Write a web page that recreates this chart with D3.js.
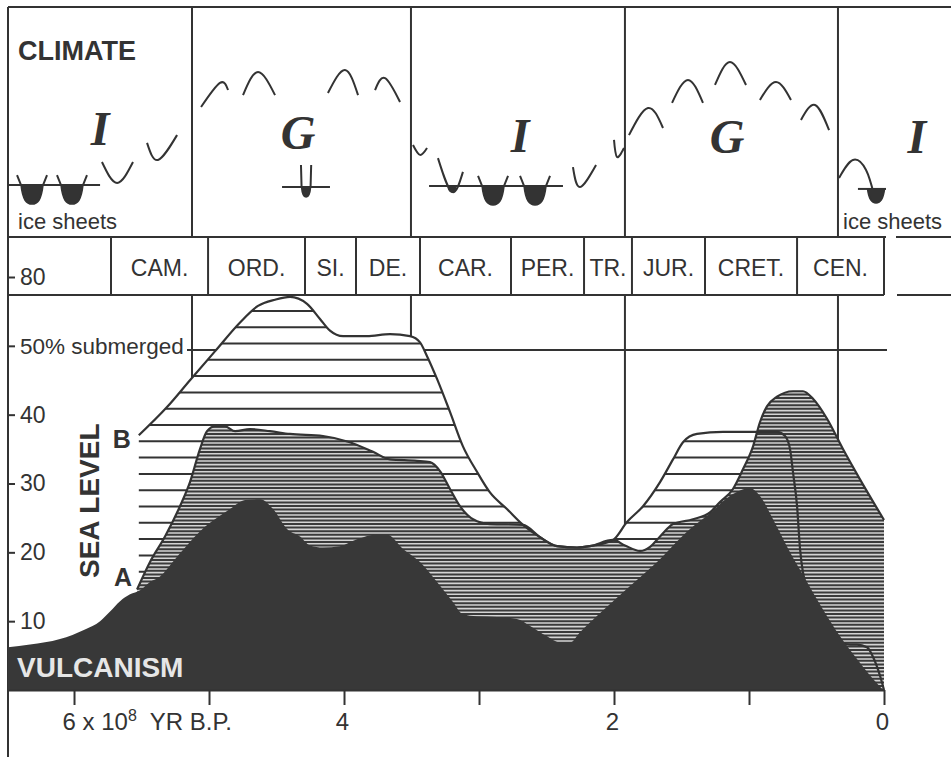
<!DOCTYPE html>
<html>
<head>
<meta charset="utf-8">
<script src="https://cdn.jsdelivr.net/npm/d3@7"></script>
<style>
  body { margin: 0; background: #fff; }
  text { fill: #333; font-family: "Liberation Sans", Arial, sans-serif; }
</style>
</head>
<body>
<div id="chart-container"></div>
<script>
// ages in units of 10^8 yr B.P., sea level on the chart's own scale
const vulcanism = [[6.489,6.2],[6.326,6.6],[6.104,7.4],[5.919,8.8],[5.807,10.0],[5.733,11.4],[5.659,12.9],
  [5.585,13.9],[5.511,14.5],[5.437,15.7],[5.363,16.5],[5.252,19.0],[5.141,21.5],[5.030,23.7],[4.956,24.8],
  [4.844,26.3],[4.733,27.6],[4.622,27.7],[4.526,26.3],[4.422,23.4],[4.326,22.3],[4.252,21.0],[4.156,20.7],
  [4.030,20.9],[3.904,21.9],[3.756,22.6],[3.681,22.6],[3.563,20.5],[3.437,18.6],[3.311,15.7],[3.193,12.8],
  [3.119,11.0],[3.015,10.7],[2.867,10.6],[2.719,10.3],[2.622,9.3],[2.496,7.8],[2.400,6.9],[2.326,6.9],
  [2.252,8.4],[2.178,9.8],[1.933,14.2],[1.681,18.6],[1.437,23.4],[1.311,25.3],[1.141,28.2],[0.993,29.3],
  [0.919,28.2],[0.822,24.8],[0.696,20.0],[0.570,15.7],[0.452,11.7],[0.326,7.8],[0.200,4.5],[0.081,1.6],[0.007,0]];

const curveA = [[5.533,14.6],[5.437,18.6],[5.326,22.3],[5.215,26.7],[5.141,30.2],[5.067,35.0],[5.015,37.6],
  [4.956,38.3],[4.881,38.3],[4.807,37.6],[4.696,37.9],[4.548,37.6],[4.400,37.2],[4.156,36.9],[3.956,36.0],
  [3.785,34.6],[3.659,33.5],[3.459,33.3],[3.363,33.1],[3.289,31.8],[3.215,29.2],[3.141,26.7],[3.044,24.8],
  [2.919,24.1],[2.674,24.0],[2.548,22.2],[2.422,20.9],[2.274,20.7],[2.178,20.9],[2.007,21.8],[1.919,21.0],
  [1.807,20.2],[1.733,20.8],[1.659,22.3],[1.563,24.1],[1.415,24.8],[1.289,25.8],[1.215,27.3],[1.119,29.2],
  [1.044,32.1],[0.970,35.4],[0.919,38.9],[0.867,41.2],[0.793,42.6],[0.674,43.4],[0.600,43.4],[0.526,42.3],
  [0.422,39.4],[0.304,35.0],[0.178,30.6],[0,24.7]];

const curveB = [[5.52,37.0],[5.311,41.1],[5.141,45.0],[4.956,49.2],[4.770,53.4],[4.637,55.8],[4.511,56.7],
  [4.400,57.1],[4.274,56.1],[4.178,53.9],[4.104,52.2],[4.007,51.4],[3.830,51.4],[3.659,51.7],[3.511,51.4],
  [3.437,50.5],[3.385,48.5],[3.311,45.2],[3.215,40.4],[3.119,35.4],[3.015,31.7],[2.919,28.7],[2.793,26.3],
  [2.674,24.0],[2.548,22.2],[2.422,20.9],[2.274,20.7],[2.178,20.9],[2.007,21.8],[1.904,24.4],[1.785,26.7],
  [1.659,30.2],[1.563,33.5],[1.489,36.0],[1.385,37.2],[1.193,37.5],[0.793,37.5],[0.733,36.9],[0.696,35.0],
  [0.674,31.6],[0.644,26.7],[0.622,20.5],[0.563,14.0],[0.400,8.0],[0.252,6.6],[0.200,6.6],[0.126,6.2],
  [0.081,4.8],[0.030,2.1],[0,0]];

const periodNames = ["CAM.", "ORD.", "SI.", "DE.", "CAR.", "PER.", "TR.", "JUR.", "CRET.", "CEN."];
const periodBounds = [5.726, 5.007, 4.289, 3.911, 3.437, 2.763, 2.222, 1.867, 1.326, 0.644, 0];
const climateBounds = [5.126, 3.504, 1.919, 0.341];
const climateLetters = [[5.807,47.4,"I"],[4.341,45.7,"G"],[2.696,44.3,"I"],[1.163,43.9,"G"],[-0.244,43.9,"I"]];

// climate glyphs: [age, level] on a 0-100 panel scale
const climateArcs = [
  [[5.793,32.6],[5.681,23.5],[5.563,32.6]],
  [[5.459,40.9],[5.378,33.5],[5.237,44.3]],
  [[5.059,56.5],[4.919,67.0],[4.859,63.9]],
  [[4.748,61.7],[4.637,71.7],[4.511,61.7]],
  [[4.119,62.6],[3.993,72.6],[3.896,61.7]],
  [[3.770,63.9],[3.696,69.1],[3.585,58.7]],
  [[3.489,40.0],[3.437,35.7],[3.385,38.7]],
  [[3.304,34.3],[3.200,19.6],[3.119,28.3]],
  [[2.304,30.4],[2.252,21.7],[2.133,31.3]],
  [[2.000,42.2],[1.978,34.8],[1.926,38.7]],
  [[1.889,44.3],[1.748,56.1],[1.637,47.4]],
  [[1.570,58.3],[1.452,68.3],[1.341,58.3]],
  [[1.252,66.1],[1.141,76.1],[1.022,66.1]],
  [[0.919,59.6],[0.800,67.4],[0.689,59.6]],
  [[0.615,50.9],[0.511,57.4],[0.407,46.5]],
  [[0.333,25.7],[0.230,33.5],[0.133,29.1],[0.074,18.3]]
];
const iceLines = [[6.489,5.807,22.6],[4.459,4.104,21.7],[3.370,2.378,22.2],[0.193,-0.015,20.9]];
const iceBowls = [[6.311,22.6,"wide"],[6.015,22.6,"wide"],[4.281,21.7,"narrow"],[3.200,22.2,"tiny"],
  [2.896,22.2,"wide"],[2.585,22.2,"wide"],[0.059,20.9,"small"]];

const xTicks = [0, 1, 2, 3, 4, 5, 6];
const xTickLabels = { 0: "0", 2: "2", 4: "4", 6: "6 x 10" };
const yTicks = [10, 20, 30, 40, 50, 60];
const yTickLabels = ["10", "20", "30", "40", "50% submerged", "80"];
const submergedLevel = 49.4;

const W = 951, H = 757;
const ink = "#333";
const climTop = 7, climBottom = 237, barBottom = 295;

const svg = d3.select("#chart-container").append("svg")
  .attr("width", W).attr("height", H);

const x = d3.scaleLinear().domain([6.489, 0]).range([8, 884]);
const y = d3.scaleLinear().domain([0, 60]).range([690, 277]);
const yc = d3.scaleLinear().domain([0, 100]).range([climBottom, climTop]);

function hline(g, x1, x2, yy) {
  g.append("line").attr("x1", x1).attr("x2", x2).attr("y1", yy).attr("y2", yy)
    .attr("stroke", ink).attr("stroke-width", 2);
}
function vline(g, xx, y1, y2) {
  g.append("line").attr("x1", xx).attr("x2", xx).attr("y1", y1).attr("y2", y2)
    .attr("stroke", ink).attr("stroke-width", 2);
}

// frame: climate box + period bar
const frame = svg.append("g");
vline(frame, 8, climTop, H);
hline(frame, 8, W, climTop);
hline(frame, 8, 886, climBottom);
hline(frame, 896, W, climBottom);
hline(frame, 8, x(0), barBottom);
hline(frame, 897, W, barBottom);
climateBounds.forEach(t => vline(frame, x(t), climTop, climBottom));
periodBounds.forEach(t => vline(frame, x(t), climBottom, barBottom));

// plot-area guide lines (covered by the fills)
climateBounds.forEach(t => vline(frame, x(t), barBottom, y(0)));
hline(frame, 187, 887, y(submergedLevel));

const area = d3.area().x(d => x(d[0])).y0(y(0)).y1(d => y(d[1])).curve(d3.curveMonotoneX);
const line = d3.line().x(d => x(d[0])).y(d => y(d[1])).curve(d3.curveMonotoneX);

const defs = svg.append("defs");
defs.append("clipPath").attr("id", "clipB").append("path").attr("d", area(curveB));
defs.append("clipPath").attr("id", "clipA").append("path").attr("d", area(curveA));

// B: sparse hatching
svg.append("path").attr("d", area(curveB)).attr("fill", "#fff");
svg.append("g").attr("clip-path", "url(#clipB)")
  .selectAll("line").data(d3.range(310.9, 692, 16.3)).join("line")
  .attr("x1", 0).attr("x2", W).attr("y1", d => d).attr("y2", d => d)
  .attr("stroke", ink).attr("stroke-width", 2);

// A: dense hatching
svg.append("path").attr("d", area(curveA)).attr("fill", "#d4d4d4");
svg.append("g").attr("clip-path", "url(#clipA)")
  .selectAll("line").data(d3.range(380, 692, 3.6)).join("line")
  .attr("x1", 0).attr("x2", W).attr("y1", d => d).attr("y2", d => d)
  .attr("stroke", "#3a3a3a").attr("stroke-width", 2);

svg.append("path").attr("d", line(curveB)).attr("fill", "none").attr("stroke", ink).attr("stroke-width", 2.2);
svg.append("path").attr("d", line(curveA)).attr("fill", "none").attr("stroke", ink).attr("stroke-width", 2.2);

// vulcanism
svg.append("path").attr("d", area(vulcanism)).attr("fill", "#383838");

// axes
const gx = svg.append("g").attr("transform", `translate(0,${y(0)})`)
  .call(d3.axisBottom(x).tickValues(xTicks).tickSize(15).tickSizeOuter(0).tickPadding(8)
    .tickFormat(d => xTickLabels[d] || ""));
gx.select(".domain").attr("stroke", ink).attr("stroke-width", 2);
gx.selectAll(".tick line").attr("stroke", ink).attr("stroke-width", 2);
gx.selectAll(".tick text").attr("font-size", 24).attr("font-family", "Liberation Sans, Arial")
  .attr("fill", ink).attr("x", -2);
gx.selectAll(".tick").filter(d => d === 6).select("text")
  .attr("text-anchor", "start").attr("x", -12).style("white-space", "pre")
  .call(t => {
    t.append("tspan").attr("dy", -9).attr("font-size", 16).text("8");
    t.append("tspan").attr("dy", 9).text("  YR B.P.");
  });

const gy = svg.append("g").attr("transform", "translate(8,0)")
  .call(d3.axisRight(y).tickValues(yTicks).tickSize(7).tickPadding(5)
    .tickFormat((d, i) => yTickLabels[i]));
gy.select(".domain").remove();
gy.selectAll(".tick line").attr("stroke", ink).attr("stroke-width", 2);
gy.selectAll(".tick text").attr("font-size", 23).attr("font-family", "Liberation Sans, Arial").attr("fill", ink);
gy.selectAll(".tick text").filter((d) => d === 50).attr("font-size", 22.5);

// period labels
svg.append("g").selectAll("text").data(periodNames).join("text")
  .attr("x", (d, i) => (x(periodBounds[i]) + x(periodBounds[i + 1])) / 2)
  .attr("y", 268).attr("dy", "0.35em").attr("text-anchor", "middle")
  .attr("font-size", 23).text(d => d);

// climate panel
const clim = svg.append("g");
const arcLine = d3.line().x(d => x(d[0])).y(d => yc(d[1])).curve(d3.curveNatural);
clim.selectAll("path.arc").data(climateArcs).join("path").attr("class", "arc")
  .attr("d", arcLine).attr("fill", "none").attr("stroke", ink).attr("stroke-width", 2);
iceLines.forEach(d => hline(clim, x(d[0]), x(d[1]), yc(d[2])));

const bowlStyle = {
  wide: { w: 11, d: 19, ext: 10, dx: 4 },
  narrow: { w: 4.5, d: 10, ext: 22, dx: 0.6 },
  tiny: { w: 4, d: 6, ext: 0, dx: 0 },
  small: { w: 8.5, d: 14, ext: 0, dx: 0 }
};
iceBowls.forEach(b => {
  const s = bowlStyle[b[2]], cx = x(b[0]), ly = yc(b[1]);
  clim.append("path")
    .attr("d", `M${cx - s.w},${ly} C${cx - s.w * 0.85},${ly + s.d * 0.8} ${cx - s.w * 0.5},${ly + s.d} ${cx},${ly + s.d}` +
      ` C${cx + s.w * 0.5},${ly + s.d} ${cx + s.w * 0.85},${ly + s.d * 0.8} ${cx + s.w},${ly} Z`)
    .attr("fill", ink).attr("stroke", ink).attr("stroke-width", 1.5);
  if (s.ext > 0) {
    clim.append("path")
      .attr("d", `M${cx - s.w - s.dx},${ly - s.ext} L${cx - s.w},${ly} M${cx + s.w + s.dx},${ly - s.ext} L${cx + s.w},${ly}`)
      .attr("fill", "none").attr("stroke", ink).attr("stroke-width", 2);
  }
});

clim.selectAll("text.letter").data(climateLetters).join("text").attr("class", "letter")
  .attr("x", d => x(d[0])).attr("y", d => yc(d[1])).attr("dy", "0.35em")
  .attr("text-anchor", "middle")
  .attr("font-weight", "bold").attr("font-style", "italic").attr("font-size", 48)
  .style("font-family", "Liberation Serif, serif").text(d => d[2]);

clim.append("text").attr("x", 18).attr("y", 60).attr("font-size", 27).attr("font-weight", "bold").text("CLIMATE");
clim.append("text").attr("x", 18).attr("y", 229).attr("font-size", 22).text("ice sheets");
clim.append("text").attr("x", 843).attr("y", 229).attr("font-size", 22).text("ice sheets");

// curve labels
svg.append("text").attr("x", 89).attr("y", y(27.5)).attr("dy", "0.35em").attr("text-anchor", "middle")
  .attr("transform", `rotate(-90,89,${y(27.5)})`).attr("font-size", 28).attr("font-weight", "bold").text("SEA LEVEL");
svg.append("text").attr("x", x(curveB[0][0]) - 17).attr("y", y(curveB[0][1]) + 4).attr("dy", "0.35em")
  .attr("text-anchor", "middle").attr("font-size", 25).attr("font-weight", "bold").text("B");
svg.append("text").attr("x", x(curveA[0][0]) - 14).attr("y", y(curveA[0][1]) - 12).attr("dy", "0.35em")
  .attr("text-anchor", "middle").attr("font-size", 25).attr("font-weight", "bold").text("A");
svg.append("text").attr("x", 17).attr("y", 677).attr("font-size", 28).attr("font-weight", "bold")
  .style("fill", "#e6e6e6").text("VULCANISM");
</script>
</body>
</html>
